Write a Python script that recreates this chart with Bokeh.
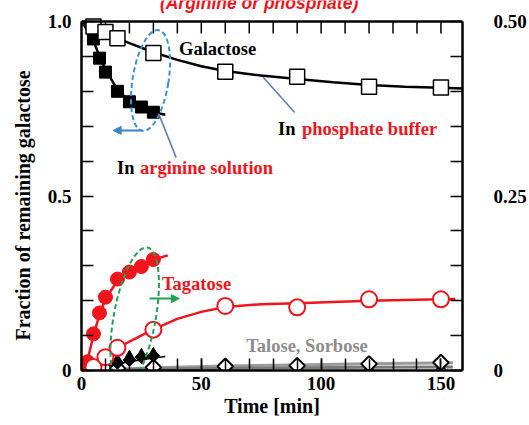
from bokeh.plotting import figure
from bokeh.models import (Range1d, LinearAxis, FixedTicker, CustomJSTickFormatter,
                          Label, Arrow, NormalHead, Span)
from bokeh.embed import file_html
from bokeh.resources import INLINE
import math

# ---------------- data ----------------
# Galactose in arginine solution (filled squares)
t_arg = [5, 7.5, 10, 15, 20, 25, 30]
gal_arg = [0.95, 0.895, 0.855, 0.80, 0.77, 0.755, 0.74]
# Galactose in phosphate buffer (open squares)
t_pho = [5, 10, 15, 30, 60, 90, 120, 150]
gal_pho = [0.986, 0.97, 0.952, 0.91, 0.856, 0.842, 0.813, 0.811]
# Tagatose in arginine (filled circles)
t_tag_arg = [0, 2.5, 5, 7.5, 10, 15, 20, 25, 30]
tag_arg = [0.0, 0.025, 0.105, 0.165, 0.21, 0.262, 0.282, 0.298, 0.318]
# Tagatose in phosphate (open circles)
tag_pho = [0.01, 0.038, 0.065, 0.117, 0.185, 0.181, 0.204, 0.204]
# Talose / sorbose in arginine (filled diamonds, filled triangles)
t_ts_arg = [15, 20, 25, 30]
tal_arg = [0.022, 0.030, 0.038, 0.042]
sor_arg = [0.030, 0.040, 0.045, 0.048]
# Talose / sorbose in phosphate (open diamonds, open triangles)
tal_pho = [0.002, 0.004, 0.006, 0.009, 0.012, 0.014, 0.019, 0.023]
sor_pho = [-0.002, -0.002, -0.001, 0.0, 0.003, 0.004, 0.005, 0.006]

# fitted curves
fit_gal_pho_t = [0, 5, 10, 15, 20, 30, 40, 50, 60, 75, 90, 105, 120, 135, 150, 159]
fit_gal_pho_y = [1.0, 0.985, 0.968, 0.952, 0.938, 0.912, 0.89, 0.872, 0.858, 0.845,
                 0.835, 0.826, 0.818, 0.813, 0.81, 0.808]
fit_gal_arg_t = [0, 2.5, 5, 7.5, 10, 15, 20, 25, 30, 35]
fit_gal_arg_y = [1.0, 0.975, 0.945, 0.9, 0.862, 0.805, 0.772, 0.752, 0.74, 0.733]
fit_tag_arg_t = [0, 2.5, 5, 7.5, 10, 15, 20, 25, 30, 36]
fit_tag_arg_y = [0.0, 0.03, 0.1, 0.16, 0.205, 0.258, 0.283, 0.3, 0.318, 0.33]
fit_tag_pho_t = [0, 5, 10, 15, 20, 30, 40, 50, 60, 75, 90, 120, 150, 156]
fit_tag_pho_y = [0.0, 0.015, 0.038, 0.063, 0.083, 0.118, 0.148, 0.168, 0.182, 0.19,
                 0.193, 0.2, 0.204, 0.205]
fit_ts_pho_t = [0, 30, 60, 90, 120, 155]
fit_tal_pho_y = [0.0, 0.008, 0.013, 0.016, 0.019, 0.022]
fit_sor_pho_y = [0.0, 0.004, 0.006, 0.008, 0.009, 0.010]
fit_ts_arg_t = [0, 10, 20, 30, 35]
fit_tal_arg_y = [0.0, 0.012, 0.025, 0.036, 0.04]

x_major = [0, 50, 100, 150]
x_minor = list(range(10, 160, 10))
y_major = [0, 0.5, 1.0]
y_minor = [0.1, 0.2, 0.3, 0.4, 0.6, 0.7, 0.8, 0.9]
yr_major = [0, 0.25, 0.5]
yr_minor = [0.05, 0.1, 0.15, 0.2, 0.3, 0.35, 0.4, 0.45]

RED = "#f0141c"
SERIF = "Liberation Serif"

Y_TOP = 1.0602   # frame reaches the top edge so the cut title can show
TICK = 12        # inward tick length in px

p = figure(width=529, height=425, x_range=Range1d(0, 159), y_range=Range1d(0, Y_TOP),
           output_backend="svg", toolbar_location=None,
           min_border_left=81, min_border_right=62, min_border_top=0, min_border_bottom=55)
p.grid.visible = False
p.outline_line_color = None
p.background_fill_color = "white"
p.border_fill_color = "white"

p.extra_y_ranges = {"right": Range1d(0, Y_TOP / 2)}
right_ax = LinearAxis(y_range_name="right")
p.add_layout(right_ax, "right")

left_ax = p.left[0]
bottom_ax = p.below[0]

bottom_ax.ticker = FixedTicker(ticks=x_major, minor_ticks=x_minor)
left_ax.ticker = FixedTicker(ticks=y_major, minor_ticks=y_minor)
right_ax.ticker = FixedTicker(ticks=yr_major, minor_ticks=yr_minor)
left_ax.bounds = (0, 1.0)
right_ax.bounds = (0, 0.5)

left_ax.formatter = CustomJSTickFormatter(code="return tick == 0 ? '0' : tick.toFixed(1);")
right_ax.formatter = CustomJSTickFormatter(code="return tick == 0 ? '0' : tick.toFixed(2);")

for ax in (left_ax, bottom_ax, right_ax):
    ax.axis_line_width = 2.5
    ax.axis_line_color = "black"
    ax.major_tick_in = TICK
    ax.major_tick_out = 0
    ax.minor_tick_in = TICK
    ax.minor_tick_out = 0
    ax.major_tick_line_width = 1.5
    ax.minor_tick_line_width = 1.5
    ax.major_tick_line_color = "black"
    ax.minor_tick_line_color = "black"
    ax.major_label_text_font = SERIF
    ax.major_label_text_font_style = "bold"
    ax.major_label_text_font_size = "19px"
    ax.major_label_text_color = "black"
    ax.axis_label_text_font = SERIF
    ax.axis_label_text_font_style = "bold"
    ax.axis_label_text_font_size = "20px"
    ax.axis_label_text_color = "black"

# trailing no-break spaces shift the rotated title down a little, as in the original
left_ax.axis_label = "Fraction of remaining galactose" + "\u00a0" * 8
left_ax.axis_label_text_font_size = "20px"
left_ax.major_label_standoff = 10
left_ax.axis_label_standoff = 11

bottom_ax.axis_label = "Time [min]"
bottom_ax.major_label_standoff = 6
bottom_ax.axis_label_standoff = 2

right_ax.major_label_standoff = 31
right_ax.major_label_text_align = "center"

# top frame edge with inward ticks every 10 min
p.add_layout(Span(location=1.0, dimension="width", line_color="black", line_width=2.5))
top_ticks = x_minor
p.segment(x0=top_ticks, y0=[1.0] * len(top_ticks), x1=top_ticks,
          y1=[1.0 - TICK / 349.0] * len(top_ticks), line_color="black", line_width=1.5)

# ---------------- curves ----------------
p.line(fit_ts_pho_t, fit_tal_pho_y, line_color="#9a9a9a", line_width=3)
p.line(fit_ts_pho_t, fit_sor_pho_y, line_color="#7a7a7a", line_width=3)
p.line(fit_ts_arg_t, fit_tal_arg_y, line_color="black", line_width=1.5)
p.line(fit_gal_pho_t, fit_gal_pho_y, line_color="black", line_width=2.5)
p.line(fit_gal_arg_t, fit_gal_arg_y, line_color="black", line_width=2.5)
p.line(fit_tag_arg_t, fit_tag_arg_y, line_color=RED, line_width=2.5)
p.line(fit_tag_pho_t, fit_tag_pho_y, line_color=RED, line_width=2.5)

# ---------------- markers ----------------
DIAM = math.pi / 4
p.scatter(t_pho, sor_pho, marker="triangle", size=11, fill_color="white",
          line_color="black", line_width=1.5)
p.scatter(t_pho, tal_pho, marker="square", angle=DIAM, size=11, fill_color="white",
          line_color="black", line_width=2)
p.scatter(t_ts_arg, sor_arg, marker="triangle", size=11, fill_color="black", line_color="black")
p.scatter(t_ts_arg, tal_arg, marker="square", angle=DIAM, size=9, fill_color="black",
          line_color="black")
p.scatter(t_arg, gal_arg, marker="square", size=12, fill_color="black", line_color="black")
p.scatter(t_pho, gal_pho, marker="square", size=15, fill_color="white",
          line_color="black", line_width=1.5)
p.scatter(t_tag_arg, tag_arg, marker="circle", size=14, fill_color=RED, line_color=RED)
p.scatter(t_pho, tag_pho, marker="circle", size=16, fill_color="white",
          line_color=RED, line_width=2)

# ---------------- annotations ----------------
p.ellipse(x=[28.8], y=[0.831], width=36, height=102, width_units="screen",
          height_units="screen", angle=-0.16, fill_color=None,
          line_color="#3b8fd4", line_width=2, line_dash="5 3")
p.ellipse(x=[22.2], y=[0.152], width=42, height=142, width_units="screen",
          height_units="screen", angle=-0.18, fill_color=None,
          line_color="#22a055", line_width=2, line_dash="5 3")

p.add_layout(Arrow(x_start=25.1, y_start=0.688, x_end=13.2, y_end=0.688,
                   line_color="#3a86c8", line_width=2,
                   end=NormalHead(size=8, fill_color="#3a86c8", line_color="#3a86c8")))
p.add_layout(Arrow(x_start=28.4, y_start=0.206, x_end=40.8, y_end=0.206,
                   line_color="#22a055", line_width=2,
                   end=NormalHead(size=8, fill_color="#22a055", line_color="#22a055")))
p.add_layout(Arrow(x_start=75.8, y_start=0.84, x_end=89.0, y_end=0.739,
                   line_color="#5b7bb5", line_width=1.5, end=None))
p.add_layout(Arrow(x_start=32.5, y_start=0.731, x_end=39.5, y_end=0.61,
                   line_color="#5b7bb5", line_width=1.5, end=None))

def lab(x, y, text, color="black", align="left", size="18.5px", font=SERIF,
        style="bold", x_offset=0, baseline="middle"):
    p.add_layout(Label(x=x, y=y, text=text, text_color=color, text_align=align,
                       text_baseline=baseline, text_font=font, text_font_style=style,
                       text_font_size=size, x_offset=x_offset))

lab(74.1, 1.0536, "(Arginine or phosphate)", color=RED, align="center", size="17.5px",
    font="Liberation Sans", style="bold italic", baseline="alphabetic")
lab(56.8, 0.92, "Galactose", align="center")
lab(82.0, 0.693, "In")
lab(82.0, 0.693, "phosphate buffer", color=RED, x_offset=24)
lab(14.8, 0.579, "In")
lab(14.8, 0.579, "arginine solution", color=RED, x_offset=23)
lab(48.0, 0.249, "Tagatose", color=RED, align="center")
lab(94.1, 0.0716, "Talose, Sorbose", color="#8c8c8c", align="center")

open("out.html", "w").write(file_html(p, INLINE))
